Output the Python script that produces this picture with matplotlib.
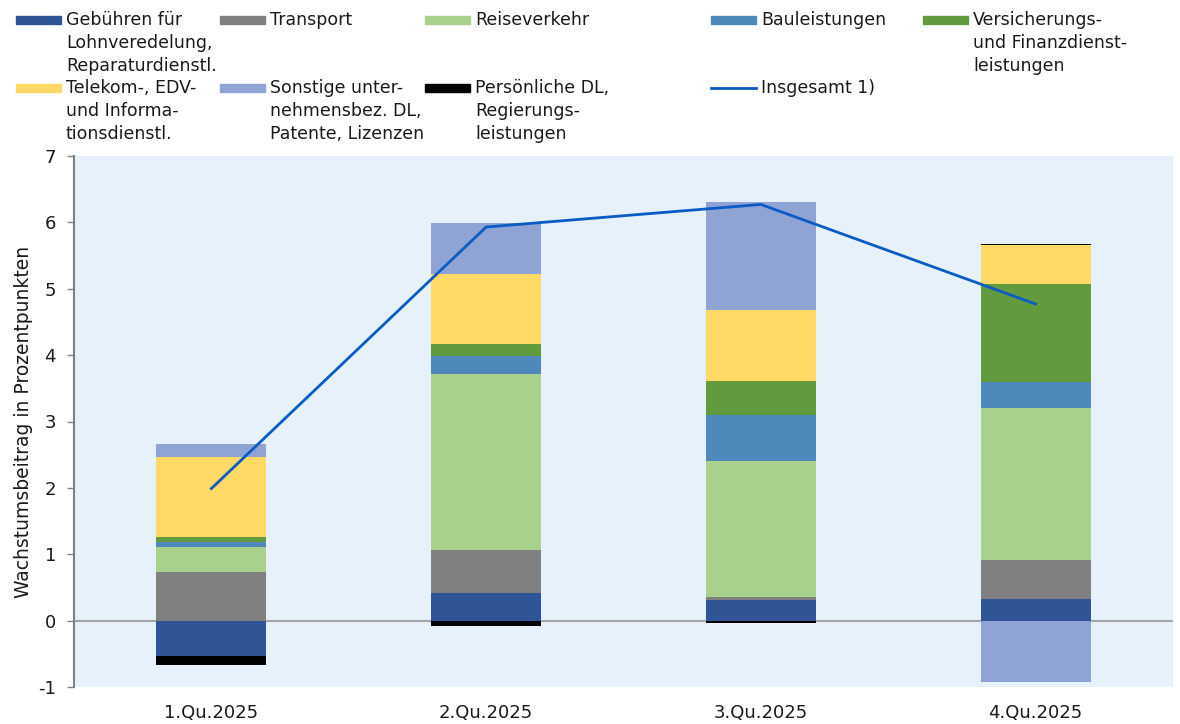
import numpy as np
import matplotlib
matplotlib.use("Agg")
import matplotlib.pyplot as plt
from matplotlib.patches import Rectangle
from matplotlib.lines import Line2D

quarters = ["1.Qu.2025", "2.Qu.2025", "3.Qu.2025", "4.Qu.2025"]

gebuehren = [-0.54, 0.41, 0.31, 0.32]
transport = [0.74, 0.65, 0.04, 0.60]
reiseverkehr = [0.37, 2.65, 2.05, 2.29]
bauleistungen = [0.07, 0.27, 0.70, 0.38]
versicherung = [0.08, 0.19, 0.51, 1.48]
telekom = [1.20, 1.05, 1.07, 0.59]
sonstige = [0.20, 0.77, 1.62, -0.92]
persoenlich = [-0.13, -0.075, -0.035, 0.02]
insgesamt = [1.99, 5.93, 6.27, 4.77]

labels = [
    "Gebühren für\nLohnveredelung,\nReparaturdienstl.",
    "Transport",
    "Reiseverkehr",
    "Bauleistungen",
    "Versicherungs-\nund Finanzdienst-\nleistungen",
    "Telekom-, EDV-\nund Informa-\ntionsdienstl.",
    "Sonstige unter-\nnehmensbez. DL,\nPatente, Lizenzen",
    "Persönliche DL,\nRegierungs-\nleistungen",
]
line_label = "Insgesamt 1)"

series = [gebuehren, transport, reiseverkehr, bauleistungen,
          versicherung, telekom, sonstige, persoenlich]
colors = ["#2F5597", "#808080", "#A9D18E", "#4F88BB",
          "#629A3E", "#FFD966", "#8FA4D4", "#000000"]
line_color = "#0A5BC4"

plt.rcParams["font.family"] = ["DejaVu Sans"]
plt.rcParams["axes.unicode_minus"] = False
W, H = 1180, 724
fig = plt.figure(figsize=(W / 100, H / 100), dpi=100)
ax = fig.add_axes([74 / W, 1 - 687 / H, (1173 - 74) / W, (687 - 156) / H])
ax.set_facecolor("#E6F1FC")

x = np.arange(len(quarters))
pos_base = np.zeros(len(quarters))
neg_base = np.zeros(len(quarters))
for vals, c in zip(series, colors):
    v = np.array(vals)
    bottom = np.where(v >= 0, pos_base, neg_base)
    ax.bar(x, v, 0.4, bottom=bottom, color=c, edgecolor="none", zorder=2)
    pos_base = pos_base + np.where(v >= 0, v, 0)
    neg_base = neg_base + np.where(v < 0, v, 0)

ax.plot(x, insgesamt, color=line_color, lw=2.0, zorder=4)
ax.axhline(0, color="#A6A6A6", lw=1.5, zorder=1)

ax.set_xlim(-0.5, 3.5)
ax.set_ylim(-1, 7)
ax.set_yticks(range(-1, 8))
ax.set_xticks(x)
ax.set_xticklabels(quarters)
for s in ["top", "right", "bottom"]:
    ax.spines[s].set_visible(False)
ax.spines["left"].set_color("#808080")
ax.spines["left"].set_linewidth(1.5)
ax.tick_params(axis="y", direction="out", length=5, width=1, color="#808080",
               labelsize=13, labelcolor="#1a1a1a", pad=8)
ax.tick_params(axis="x", length=0, labelsize=13, labelcolor="#1a1a1a", pad=12)
ax.set_ylabel("Wachstumsbeitrag in Prozentpunkten", fontsize=13.5,
              color="#1a1a1a", labelpad=4)

# legend drawn by hand, laid out like a table (5 columns, 2 rows)
col_x = [16, 220, 425, 711, 923]
row_y = [20, 88]
entries = [(labels[i], colors[i]) for i in range(8)]
for k, (lab, c) in enumerate(entries):
    r, cidx = divmod(k, 5)
    hx, hy = col_x[cidx], row_y[r]
    fig.add_artist(Rectangle((hx / W, 1 - (hy + 4) / H), 45 / W, 8 / H,
                             transform=fig.transFigure, color=c))
    fig.text((hx + 50) / W, 1 - (hy - 9) / H, lab, fontsize=12.5,
             color="#1a1a1a", va="top", ha="left", linespacing=1.35)
hx, hy = col_x[3], row_y[1]
fig.add_artist(Line2D([hx / W, (hx + 45) / W], [1 - hy / H, 1 - hy / H],
                      transform=fig.transFigure, color=line_color, lw=2.0))
fig.text((hx + 50) / W, 1 - (hy - 9) / H, line_label, fontsize=12.5,
         color="#1a1a1a", va="top", ha="left")

fig.savefig("out.png", dpi=100)
